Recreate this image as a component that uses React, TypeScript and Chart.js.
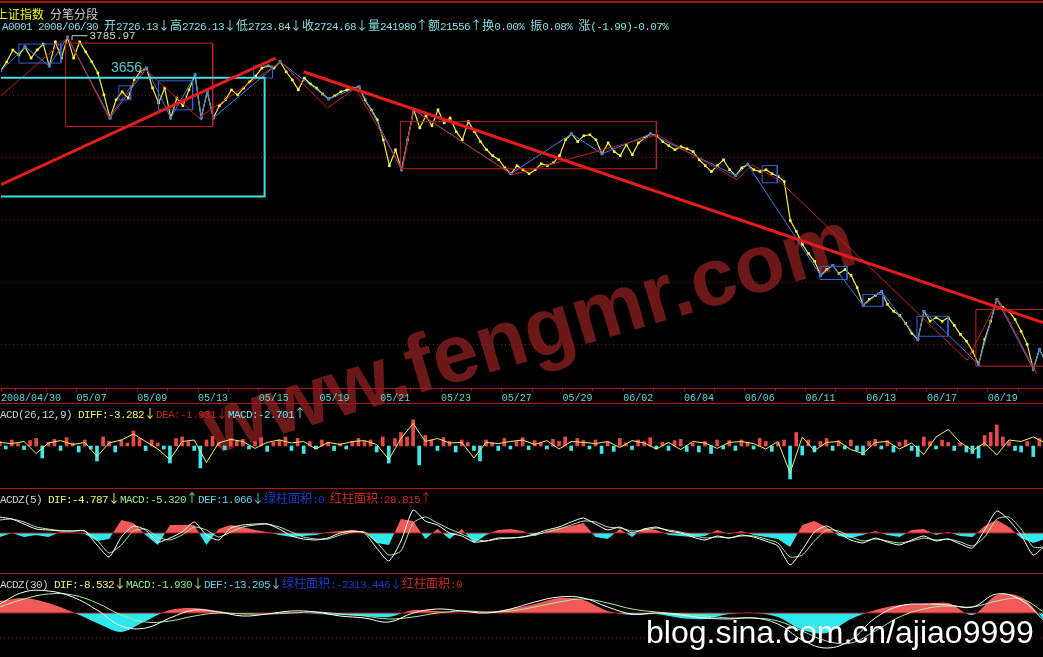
import React, { useEffect, useRef } from 'react';
import { Chart, registerables } from 'chart.js';

Chart.register(...registerables);

const WIDTH = 1043;
const HEIGHT = 657;
const X_MIN = -0.49;
const X_MAX = 33.82;

// ---------- x axis ----------
const DATE_LABELS = ['2008/04/30', '05/07', '05/09', '05/13', '05/15', '05/19', '05/21', '05/23', '05/27', '05/29', '06/02', '06/04', '06/06', '06/11', '06/13', '06/17', '06/19'];
// first label sits at the left edge of the window, the others every second trading day
const LABEL_TICKS = [X_MIN, 2, 4, 6, 8, 10, 12, 14, 16, 18, 20, 22, 24, 26, 28, 30, 32];
const DAY_TICKS = [X_MIN, 0, 1, 2, 3, 4, 5, 6, 7, 8, 9, 10, 11, 12, 13, 14, 15, 16, 17, 18, 19, 20, 21, 22, 23, 24, 25, 26, 27, 28, 29, 30, 31, 32, 33];

// ---------- price panel ----------
const PRICE_START = -0.5;
const PRICE_STEP = 0.2;
const PRICE = [
  3678, 3707, 3745, 3729, 3755, 3719, 3745, 3764, 3694, 3771,
  3719, 3785.97, 3719, 3771, 3739, 3707, 3671, 3601, 3527, 3585,
  3611, 3591, 3649, 3675, 3687, 3623, 3575, 3623, 3527, 3591,
  3566, 3617, 3665, 3527, 3611, 3527, 3566, 3585, 3617, 3601,
  3623, 3643, 3662, 3687, 3694, 3687, 3707, 3675, 3649, 3617,
  3655, 3636, 3623, 3604, 3588, 3598, 3611, 3617, 3623, 3627,
  3585, 3553, 3521, 3457, 3374, 3425, 3361, 3457, 3553, 3495,
  3534, 3502, 3553, 3511, 3527, 3483, 3457, 3515, 3483, 3451,
  3425, 3406, 3393, 3367, 3348, 3374, 3361, 3348, 3361, 3380,
  3374, 3383, 3406, 3457, 3476, 3451, 3470, 3473, 3457, 3412,
  3447, 3419, 3406, 3441, 3409, 3447, 3463, 3476, 3470, 3451,
  3438, 3425, 3435, 3428, 3419, 3393, 3374, 3355, 3374, 3393,
  3361, 3342, 3367, 3377, 3361, 3355, 3361, 3348, 3339, 3323,
  3198, 3163, 3121, 3092, 3067, 3022, 3041, 3054, 3028, 3041,
  3022, 2983, 2926, 2945, 2958, 2971, 2929, 2907, 2894, 2868,
  2836, 2817, 2907, 2875, 2887, 2875, 2887, 2862, 2833, 2811,
  2779, 2737, 2817, 2875, 2945, 2919, 2907, 2881, 2843, 2801,
  2721, 2785, 2747,
];
const PEAK_INDEX = 11;
const CENTER_LEVEL = 3656;
const CENTER_LABEL_DAY = 3.13;
const PRICE_GRID = [2800, 3000, 3200, 3400, 3600];
const PRICE_MIN = 2661;
const PRICE_MAX = 3809;

// 笔 (stroke) turning points, as indices into PRICE
const BI_INDEX = [0, 4, 8, 11, 18, 24, 28, 32, 33, 34, 35, 46, 54, 59, 66, 68, 84, 94, 99, 107, 121, 123, 135, 137, 142, 145, 151, 152, 161, 164, 170, 171, 172];
// 段 (segment) turning points: [day, price]
const DUAN = [
  [-0.49, 3598], [1.71, 3786], [3.06, 3527], [4.21, 3687], [6.02, 3527], [8.72, 3707],
  [10.26, 3559], [11.18, 3623], [12.73, 3361], [13.09, 3553], [16.35, 3345], [21.12, 3473],
  [23.75, 3329], [24.24, 3377], [25.1, 3329], [31.32, 2750], [32.34, 2945], [33.62, 2705],
];
const TREND_UP = [[-0.49, 3313], [8.55, 3719]];
const TREND_DOWN = [[9.47, 3675], [33.82, 2871]];
// boxes: [dayFrom, dayTo, low, high]
const CYAN_BOX = [-1, 8.19, 3275, 3656];
const RED_BOXES = [
  [1.64, 6.48, 3499, 3767],
  [12.66, 21.09, 3364, 3515],
  [31.61, 34.5, 2731, 2913],
];
const BLUE_BOXES = [
  [0.1, 1.48, 3703, 3764],
  [3.39, 3.78, 3585, 3630],
  [4.7, 5.82, 3553, 3646],
  [7.83, 8.45, 3655, 3694],
  [24.57, 25.07, 3319, 3374],
  [26.48, 27.37, 3009, 3051],
  [27.89, 28.55, 2923, 2961],
  [29.67, 30.69, 2827, 2891],
];

// ---------- MACD(26,12,9) ----------
const MACD_STEP = 0.2;
const MACD_HIST = [
  1.5, -1, 2, 0.8, -1.2, 1.8, 2.5, -4, 1.2, 2.2,
  -1.5, 2.8, 1, -2, 2, -1, -5, 3, 1.5, -2,
  2, 1, 5, 2.5, -1.5, 2, 1, -1, -5.7, 2.5,
  3, 1.5, -1.5, -7.3, 2, 3.2, 1, -1.2, 2.5, 1.8,
  2.2, -1, 1.5, 2.8, -1.8, 1.2, 2, 3, -1.5, 2.5,
  -2.5, 1.5, -1, 2, 1.2, -1.5, 0.8, -1, 1.5, 2.5,
  1.5, 2, -2, 3, -5.7, 2.5, 4.5, 3, 8.7, -6.3,
  3.5, 2, -1.5, 2.8, 1.5, -2, 2, 1.2, -1.5, -5,
  2, 1, -1.5, 2.5, -1, 1.5, 2.8, -1.2, 1.8, 1,
  -1, 2.2, 1.5, 3, -1.5, 2.5, 1.8, -1, 2, -2.5,
  1.5, -1.8, 2.5, 1, -1.2, 2, 1.5, 2.8, -1, 1.2,
  -1.5, 1.8, 2.2, -1.8, 1, -2, 1.5, -2.5, 2, -1,
  1.8, -1.5, 2, 1.2, -1, 2.5, 1.5, -1.8, 1, 2,
  -11, 4.5, -3, 2, -2, 1.5, 2.5, -1.5, 1.8, -1,
  2, -1.5, -3, 1.5, 2.2, -1, 1.8, -2, 1.2, 2,
  -1.5, -3.5, 3, 1.5, -1, 2, 1.2, -1.5, 1, -2,
  -2.5, -4, 3.5, 4.5, 7, 3, 1.5, -1.5, -2, 1.5,
  -3.5, 2.5, 4,
];
const DIFF_STEP = 0.4;
const MACD_DIFF = [
  1.2, 0.8, 1.5, -2.5, 1, 1.8, 0.5, 1.2, -3.5, 1,
  2, 4, 1.5, -1, -4.5, 1.5, 2, -5.5, 1, 2.2,
  1.5, -0.8, 1.2, 2, 1, 1.5, -1, 1.2, 0.5, 1.5,
  1.8, 0.5, -4.5, 2.5, 7.5, 1.5, 2.5, 1, 1.2, -4,
  1.2, 0.8, 1.5, 2, 0.5, 1.8, -1, 1.5, 1.2, 0.8,
  1.5, -0.5, 1.8, 1, -1, 1.2, -1.2, 1.5, 1, -0.8,
  1.2, 1.5, 0.8, -1, 1.5, -9, 3, -1.5, 1.2, 1.5,
  -1.2, -2.5, 1.2, 1.5, -1, 1, -2.8, 3, 5.5, 1.2,
  -1.5, 1, -3, 2, 1.5, 3, 1,
];

// ---------- MACDZ(5) ----------
const Z5_STEP = 0.4;
const Z5_DIF = [
  8, 7, 4.5, 2, 1.5, 1, 1, 1, -6, -12,
  -2, 3.5, 1.5, -4.5, -2.5, 0.5, 5.5, -1, -3.5, 2.5,
  4, 4.5, 4.5, 2, -1.5, -3, -3.5, -2.5, 0, 1,
  0, -7.5, -14, -4, 11.5, 6, 4, 0, -1.5, -4.5,
  -4, -2.5, -2.5, -2, -0.5, 1.5, 3, 5.5, 7.5, 4.5,
  1.5, 3, 0, 2, 3, 1, 0, -2, -3.5, -1.5,
  -2.5, -1, -2, -4, -6.5, -16, -8.5, 0.5, 3.5, 0,
  -3.5, -5, -2.5, -4.5, -6, -3.5, -1.5, -4, -3, -5.5,
  -7.5, 1.5, 11, 6.5, -1, -11, -6,
];
const Z5_MACD = [
  6.5, 7, 5.5, 3, 2, 1.2, 1, 1, -3.5, -10,
  -6, 1, 2, -2, -3.5, -1, 3, 1.5, -2, 0.5,
  3, 4, 4.5, 3, 0.5, -2, -3, -3, -1, 0.5,
  0.5, -4.5, -11, -9, 5, 8, 5, 2, -0.5, -3,
  -4, -3, -2.5, -2, -1, 0.5, 2, 4, 6, 5.5,
  3, 2.5, 1, 1.5, 2.5, 1.5, 0.5, -1, -2.5, -2,
  -2.5, -1.5, -1.5, -3, -5, -12, -11, -4, 1.5, 1,
  -2, -4, -3, -4, -5, -4, -2.5, -3.5, -3, -4.5,
  -6.5, -2, 7, 8, 2, -7, -7,
];
const Z5_DEF = [
  -2, 0, -2, -1, -2, 0.5, 0.3, -0.5, -4, -3,
  6.5, 5, -1, -6, 4, 4, 4, -6, 2, 4,
  3, 1.5, 0.5, -1, -2, -1.5, -1, 0.5, 1, 1.5,
  0.5, -5, -6, 7, 6, -3, 2, -3, 2, -5,
  -1, 1.5, 2, 1, -1.5, 1, 2.5, 3.5, 5, -2,
  -3, 2, -2, 2.5, 1.5, -1, -1.5, -2, -1.5, 1.5,
  -0.5, 1, -1, -2, -3, -7, 4, 6, 3, -1.5,
  -2.5, -1, 1, -1, -2, 1.5, 2, -1, 0.5, -1.5,
  -2, 3.5, 6.5, 3, -2.5, -5, -3,
];

// ---------- MACDZ(30) ----------
const Z30_STEP = 0.8;
const Z30_DIF = [
  9, 21, 22, 16, 3, -13, -15, -5, 3, 1,
  -3, -1, 2, 1, -3, -5, -9, 0, 4, 2,
  0, 4, 11, 16, 15, 6, -1, 0, -2, -5,
  -6, -5, -11, -27, -35, -27, -5, 7, 9, 8,
  6, 19, 13, -9,
];
const Z30_MACD = [
  6, 14, 19, 18, 10, -2, -9, -8, -3, 0,
  -1, -1, 0, 1, -1, -3, -6, -4, 0, 2,
  1, 2, 6, 11, 14, 10, 4, 1, -1, -3,
  -5, -5, -8, -18, -28, -30, -18, -4, 4, 7,
  6, 12, 14, 0,
];
const Z30_DEF = [
  12, 15, 10, 1, -10, -19, -8, 3, 5, 2,
  -1, 0, 1, -1, -2, -3, -4, 3, 2, 0,
  1, 4, 9, 15, 13, 2, -2, -1, -5, -6,
  -1, 0, -4, -17, -20, -6, 3, 8, 9, 10,
  -2, 18, 16, -8,
];
const Z30_GUIDE = -25;

// ---------- header texts ----------
type Part = [string, string];
const HEAD_TITLE: Part[] = [['上证指数', '#f2f200'], [' 分笔分段', '#c8c8c8']];
const HEAD_QUOTE: Part[] = [['A0001 2008/06/30 开2726.13↓高2726.13↓低2723.84↓收2724.68↓量241980↑额21556↑换0.00% 振0.08% 涨(-1.99)-0.07%', '#86dfe6']];
const HEAD_MACD: Part[] = [['MACD(26,12,9) ', '#d0d0d0'], ['DIFF:-3.282↓', '#f0f060'], ['DEA:-1.931↓', '#c42020'], ['MACD:-2.701↑', '#70e0e8']];
const HEAD_Z5: Part[] = [['MACDZ(5) ', '#d0d0d0'], ['DIF:-4.787↓', '#f0f070'], ['MACD:-5.320↑', '#90e890'], ['DEF:1.066↓', '#60d0e8'], ['绿柱面积:0 ', '#1c38c8'], ['红柱面积:28.815↑', '#d42424']];
const HEAD_Z30: Part[] = [['MACDZ(30) ', '#d0d0d0'], ['DIF:-8.532↓', '#f0f070'], ['MACD:-1.930↓', '#90e890'], ['DEF:-13.205↓', '#60d0e8'], ['绿柱面积:-2313.446↓', '#1c38c8'], ['红柱面积:0', '#d42424']];
const WATERMARK = 'www.fengmr.com';
const BLOG = 'blog.sina.com.cn/ajiao9999';

// ---------- colours ----------
const RED_LINE = '#b41414';
const RED_BAR = '#e84848';
const CYAN_BAR = '#3ee6ea';
const RED_AREA = '#f25a5a';
const CYAN_AREA = '#2ee8ee';

// ---------- helpers ----------
const xy = (arr: number[], start: number, step: number) => arr.map((v, i) => ({ x: start + i * step, y: v }));
const pairs = (arr: number[][]) => arr.map(([x, y]) => ({ x, y }));
const boxPts = ([x0, x1, lo, hi]: number[]) => [
  { x: x0, y: lo }, { x: x0, y: hi }, { x: x1, y: hi }, { x: x1, y: lo }, { x: x0, y: lo },
];
const level = (v: number) => [{ x: X_MIN, y: v }, { x: X_MAX, y: v }];
const flat = (data: any[], color: string, width: number, order: number, extra: any = {}) => ({
  type: 'line', data, borderColor: color, borderWidth: width, pointRadius: 0, tension: 0, fill: false, order, ...extra,
});
const hiddenX = { type: 'linear', min: X_MIN, max: X_MAX, display: false, offset: false };
const baseOpts = {
  animation: false,
  responsive: false,
  events: [],
  plugins: { legend: { display: false }, tooltip: { enabled: false } },
  layout: { padding: 0, autoPadding: false },
};

const notePlugin = {
  id: 'notes',
  afterDatasetsDraw(chart: any) {
    const { ctx, scales } = chart;
    const sx = scales.x;
    const sy = scales.y;
    ctx.save();
    const px = sx.getPixelForValue(PRICE_START + PEAK_INDEX * PRICE_STEP);
    const py = sy.getPixelForValue(PRICE[PEAK_INDEX]);
    ctx.strokeStyle = '#d0d0d0';
    ctx.lineWidth = 1;
    ctx.beginPath();
    ctx.moveTo(px + 4.5, py + 3);
    ctx.lineTo(px + 4.5, py - 1.5);
    ctx.lineTo(px + 20, py - 1.5);
    ctx.stroke();
    ctx.fillStyle = '#d0d0d0';
    ctx.font = '11px "Liberation Mono", monospace';
    ctx.textBaseline = 'middle';
    ctx.textAlign = 'left';
    ctx.fillText(PRICE[PEAK_INDEX].toFixed(2), px + 22, py - 1);
    ctx.fillStyle = '#56c8d2';
    ctx.font = '14px "Liberation Sans", sans-serif';
    ctx.textBaseline = 'alphabetic';
    ctx.fillText(String(CENTER_LEVEL), sx.getPixelForValue(CENTER_LABEL_DAY), sy.getPixelForValue(CENTER_LEVEL) - 6);
    ctx.restore();
  },
};

function priceConfig(): any {
  const datasets: any[] = [];
  datasets.push(flat(pairs(TREND_UP), '#e41c1c', 3, 1));
  datasets.push(flat(pairs(TREND_DOWN), '#e41c1c', 3, 1));
  datasets.push(flat(boxPts(CYAN_BOX), '#44dde2', 2, 2));
  RED_BOXES.forEach((b) => datasets.push(flat(boxPts(b), '#c42222', 1, 2)));
  BLUE_BOXES.forEach((b) => datasets.push(flat(boxPts(b), '#3466d6', 1, 2)));
  datasets.push(flat(pairs(DUAN), '#c81c1c', 1, 3));
  datasets.push(flat(BI_INDEX.map((i) => ({ x: PRICE_START + i * PRICE_STEP, y: PRICE[i] })), '#3a7ee2', 1, 4, {
    pointRadius: 2, pointStyle: 'rect', pointBackgroundColor: '#3a7ee2', pointBorderWidth: 0,
  }));
  datasets.push(flat(xy(PRICE, PRICE_START, PRICE_STEP), '#f0ec40', 1.2, 5, {
    pointRadius: 1.8, pointStyle: 'rect', pointBackgroundColor: '#ffff30', pointBorderWidth: 0,
  }));
  PRICE_GRID.forEach((g) => datasets.push(flat(level(g), '#8c1c1c', 1, 9, { borderDash: [1, 3] })));
  return {
    type: 'line',
    data: { datasets },
    options: {
      ...baseOpts,
      layout: { padding: { top: 30, left: 0, right: 0, bottom: 0 }, autoPadding: false },
      scales: {
        x: {
          type: 'linear', min: X_MIN, max: X_MAX, offset: false,
          afterBuildTicks: (s: any) => { s.ticks = DAY_TICKS.map((v) => ({ value: v })); },
          ticks: {
            callback: (v: number) => {
              const k = LABEL_TICKS.indexOf(v);
              return k >= 0 ? DATE_LABELS[k] : '';
            },
            color: '#5cd6d6', font: { family: '"Liberation Mono", monospace', size: 10 },
            padding: 1, maxRotation: 0, minRotation: 0, autoSkip: false, align: 'start',
          },
          grid: { drawOnChartArea: false, drawTicks: true, tickLength: 3, color: RED_LINE },
          border: { display: true, color: RED_LINE },
        },
        y: { type: 'linear', min: PRICE_MIN, max: PRICE_MAX, display: false },
      },
    },
    plugins: [notePlugin],
  };
}

function macdConfig(): any {
  return {
    type: 'bar',
    data: {
      datasets: [
        {
          type: 'bar', data: xy(MACD_HIST, PRICE_START, MACD_STEP),
          backgroundColor: MACD_HIST.map((v) => (v >= 0 ? RED_BAR : CYAN_BAR)),
          barThickness: 3, order: 2,
        },
        flat(xy(MACD_DIFF, PRICE_START, DIFF_STEP), '#f0f060', 1, 1),
      ],
    },
    options: { ...baseOpts, scales: { x: hiddenX, y: { min: -14, max: 14.33, display: false } } },
  };
}

function z5Config(): any {
  return {
    type: 'line',
    data: {
      datasets: [
        flat(xy(Z5_DEF, PRICE_START, Z5_STEP), 'rgba(0,0,0,0)', 0, 4, {
          fill: { target: { value: 0 }, above: RED_AREA, below: CYAN_AREA },
        }),
        flat(level(0), '#a41818', 1, 3),
        flat(xy(Z5_MACD, PRICE_START, Z5_STEP), '#a8f0a0', 1, 2, { tension: 0.2 }),
        flat(xy(Z5_DIF, PRICE_START, Z5_STEP), '#ffffff', 1, 1, { tension: 0.2 }),
      ],
    },
    options: { ...baseOpts, scales: { x: hiddenX, y: { min: -20, max: 22.5, display: false } } },
  };
}

function z30Config(): any {
  return {
    type: 'line',
    data: {
      datasets: [
        flat(xy(Z30_DEF, PRICE_START, Z30_STEP), 'rgba(0,0,0,0)', 0, 5, {
          tension: 0.3, fill: { target: { value: 0 }, above: RED_AREA, below: CYAN_AREA },
        }),
        flat(level(0), '#a41818', 1, 4),
        flat(level(Z30_GUIDE), '#8c1c1c', 1, 3, { borderDash: [1, 3] }),
        flat(xy(Z30_MACD, PRICE_START, Z30_STEP), '#a8f0a0', 1, 2, { tension: 0.4 }),
        flat(xy(Z30_DIF, PRICE_START, Z30_STEP), '#ffffff', 1, 1, { tension: 0.4 }),
      ],
    },
    options: { ...baseOpts, scales: { x: hiddenX, y: { min: -44, max: 40, display: false } } },
  };
}

function splitRuns(text: string) {
  const runs: { t: string; wide: boolean }[] = [];
  for (const ch of Array.from(text)) {
    const wide = ch.charCodeAt(0) > 127;
    const last = runs[runs.length - 1];
    if (!wide && last && !last.wide) last.t += ch;
    else runs.push({ t: ch, wide });
  }
  return runs;
}

function Header({ parts, top, left }: { parts: Part[]; top: number; left: number }) {
  return (
    <div style={{ position: 'absolute', top, left, whiteSpace: 'pre', lineHeight: '14px', height: 14 }}>
      {parts.map(([text, color], k) => (
        <React.Fragment key={k}>
          {splitRuns(text).map((r, m) =>
            r.wide ? (
              <span key={m} style={{ display: 'inline-block', width: 12, textAlign: 'center', font: '12px "Noto Sans CJK SC", sans-serif', color }}>{r.t}</span>
            ) : (
              <span key={m} style={{ font: '11px "Liberation Mono", monospace', letterSpacing: '-0.6px', color }}>{r.t}</span>
            ),
          )}
        </React.Fragment>
      ))}
    </div>
  );
}

const hLine = (top: number, h = 1): React.CSSProperties => ({ position: 'absolute', left: 0, top, width: WIDTH, height: h, background: RED_LINE });

export default function App() {
  const priceRef = useRef<HTMLCanvasElement>(null);
  const macdRef = useRef<HTMLCanvasElement>(null);
  const z5Ref = useRef<HTMLCanvasElement>(null);
  const z30Ref = useRef<HTMLCanvasElement>(null);

  useEffect(() => {
    const charts: Chart[] = [];
    if (priceRef.current) charts.push(new Chart(priceRef.current, priceConfig()));
    if (macdRef.current) charts.push(new Chart(macdRef.current, macdConfig()));
    if (z5Ref.current) charts.push(new Chart(z5Ref.current, z5Config()));
    if (z30Ref.current) charts.push(new Chart(z30Ref.current, z30Config()));
    return () => charts.forEach((c) => c.destroy());
  }, []);

  return (
    <div style={{ position: 'fixed', left: 0, top: 0, width: WIDTH, height: HEIGHT, background: '#000', overflow: 'hidden' }}>
      <div
        style={{
          position: 'absolute', left: 528, top: 332, transform: 'translate(-50%, -50%) rotate(-16.5deg)',
          font: 'bold 82px "Liberation Sans", sans-serif', color: '#6c1818', whiteSpace: 'nowrap',
          pointerEvents: 'none', lineHeight: '82px',
        }}
      >
        {WATERMARK}
      </div>
      <canvas ref={priceRef} width={WIDTH} height={405} style={{ position: 'absolute', left: 0, top: 0 }} />
      <canvas ref={macdRef} width={WIDTH} height={85} style={{ position: 'absolute', left: 0, top: 403 }} />
      <canvas ref={z5Ref} width={WIDTH} height={85} style={{ position: 'absolute', left: 0, top: 488 }} />
      <canvas ref={z30Ref} width={WIDTH} height={84} style={{ position: 'absolute', left: 0, top: 573 }} />
      <div style={hLine(1, 2)} />
      <div style={hLine(403)} />
      <div style={hLine(488)} />
      <div style={hLine(573)} />
      <Header parts={HEAD_TITLE} top={5} left={-4} />
      <Header parts={HEAD_QUOTE} top={16} left={2} />
      <Header parts={HEAD_MACD} top={404} left={-6} />
      <Header parts={HEAD_Z5} top={489} left={-6} />
      <Header parts={HEAD_Z30} top={574} left={-6} />
      <div
        style={{
          position: 'absolute', left: 646, top: 616, font: '32px "Liberation Sans", sans-serif', color: '#ffffff',
          whiteSpace: 'nowrap', lineHeight: '32px',
        }}
      >
        {BLOG}
      </div>
    </div>
  );
}
